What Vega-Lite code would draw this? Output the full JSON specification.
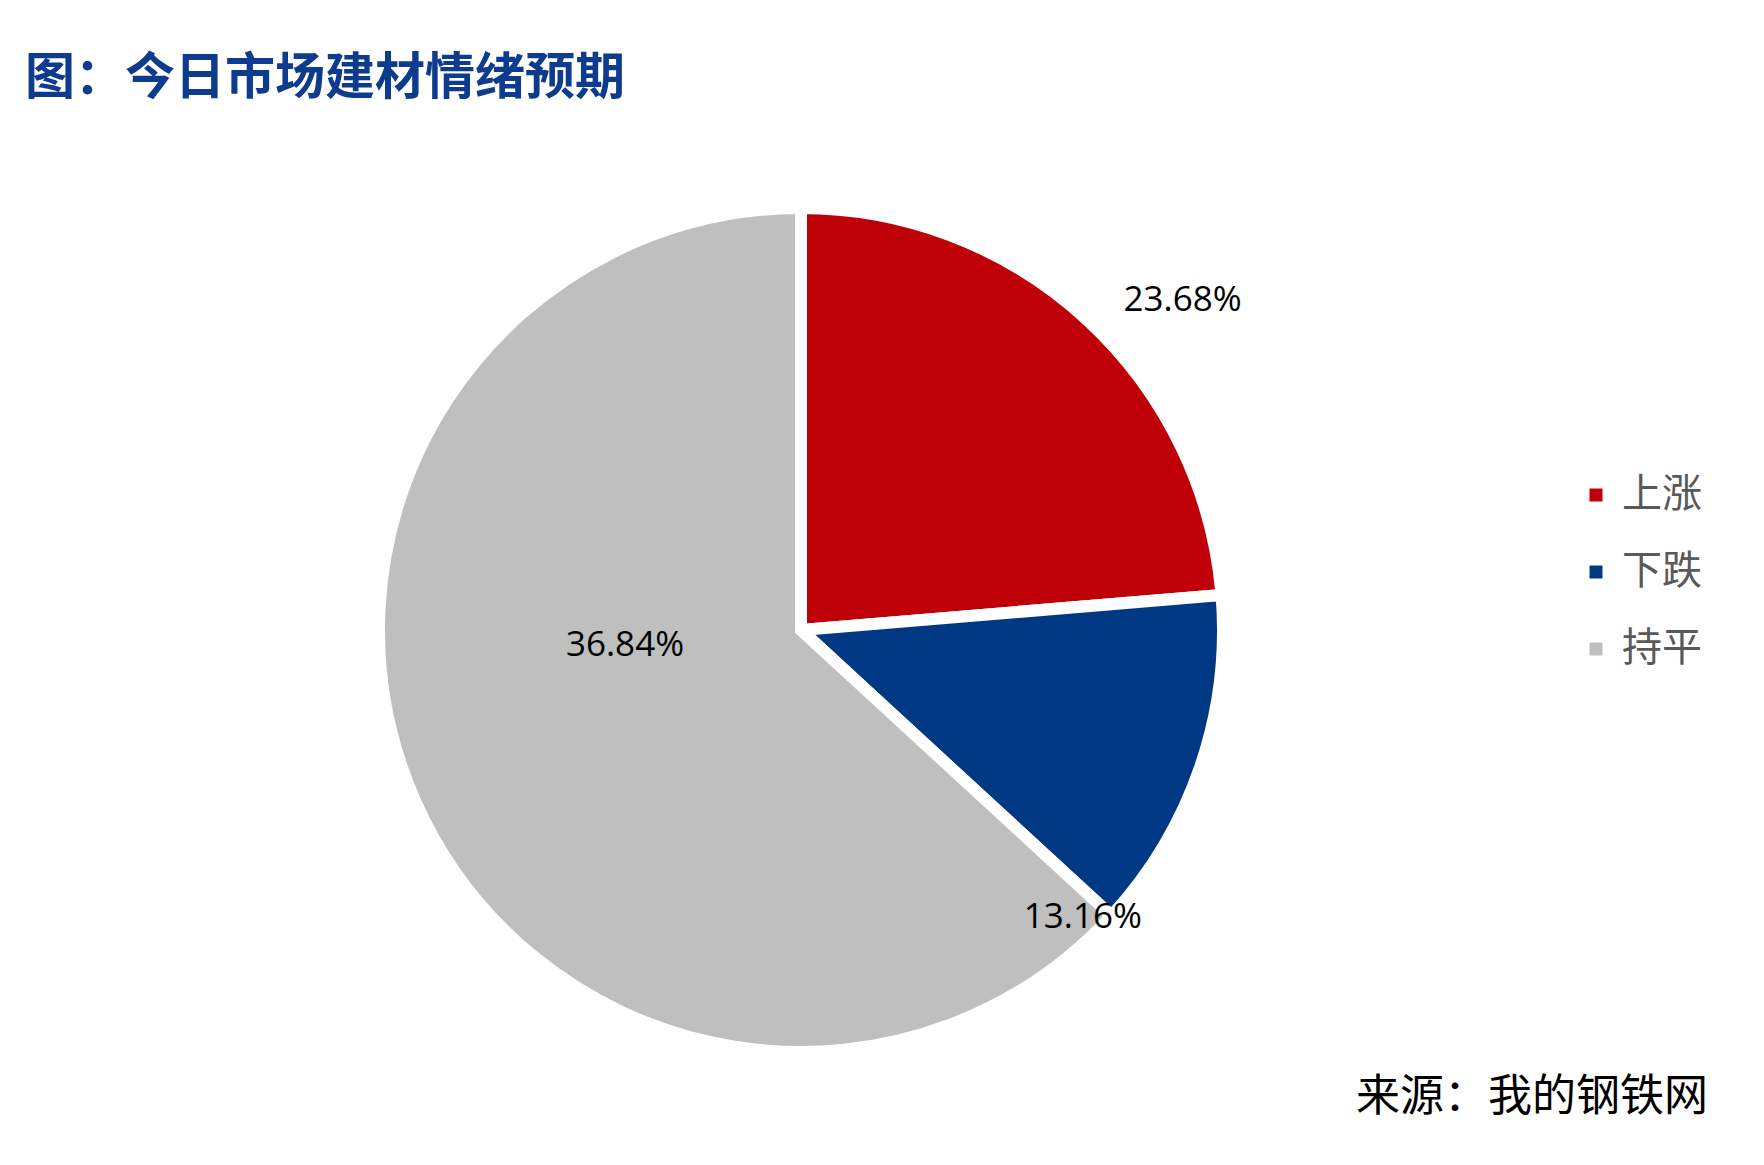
{
  "$schema": "https://vega.github.io/schema/vega-lite/v6.json",
  "background": "white",
  "padding": {"left": 25, "top": 54, "right": 10, "bottom": 10},
  "title": {
    "text": "图：今日市场建材情绪预期",
    "anchor": "start",
    "font": "Noto Sans CJK SC",
    "fontSize": 50,
    "fontWeight": "bold",
    "color": "#0D3B8E",
    "offset": 80
  },
  "data": {
    "values": [
      {"cat": "上涨", "share": 23.68, "label": "23.68%", "idx": 1},
      {"cat": "下跌", "share": 13.16, "label": "13.16%", "idx": 2},
      {"cat": "持平", "share": 63.16, "label": "36.84%", "idx": 3}
    ]
  },
  "vconcat": [
    {
      "width": 1552,
      "height": 836,
      "title": {
        "text": "来源：我的钢铁网",
        "orient": "bottom",
        "anchor": "end",
        "font": "Noto Sans CJK SC",
        "fontSize": 44,
        "fontWeight": "normal",
        "color": "#000000",
        "offset": 0,
        "dx": 131
      },
      "encoding": {
        "theta": {"field": "share", "type": "quantitative", "stack": true},
        "order": {"field": "idx", "type": "quantitative"}
      },
      "layer": [
        {
          "mark": {"type": "arc", "outerRadius": 422, "stroke": "white", "strokeWidth": 12},
          "encoding": {
            "color": {
              "field": "cat",
              "type": "nominal",
              "scale": {"domain": ["上涨", "下跌", "持平"], "range": ["#C00008", "#003884", "#BFBFBF"]},
              "legend": {
                "orient": "none",
                "legendX": 1551,
                "legendY": 263,
                "title": null,
                "padding": 0,
                "symbolType": "square",
                "symbolSize": 169,
                "symbolStrokeWidth": 0,
                "labelFont": "Noto Sans CJK SC",
                "labelFontSize": 40,
                "labelColor": "#595959",
                "labelOffset": 6,
                "rowPadding": 37
              }
            }
          }
        },
        {
          "mark": {"type": "text", "radius": 500, "dx": 43, "dy": 38, "font": "Open Sans", "fontSize": 35, "color": "#000000"},
          "encoding": {
            "text": {"condition": {"test": "datum.cat === '上涨'", "field": "label", "type": "nominal"}, "value": ""}
          }
        },
        {
          "mark": {"type": "text", "radius": 300, "dx": -2, "dy": 190, "font": "Open Sans", "fontSize": 35, "color": "#000000"},
          "encoding": {
            "text": {"condition": {"test": "datum.cat === '下跌'", "field": "label", "type": "nominal"}, "value": ""}
          }
        },
        {
          "mark": {"type": "text", "radius": 178, "dx": -13, "dy": -57, "font": "Open Sans", "fontSize": 35, "color": "#000000"},
          "encoding": {
            "text": {"condition": {"test": "datum.cat === '持平'", "field": "label", "type": "nominal"}, "value": ""}
          }
        }
      ]
    }
  ],
  "config": {"view": {"stroke": null}}
}
